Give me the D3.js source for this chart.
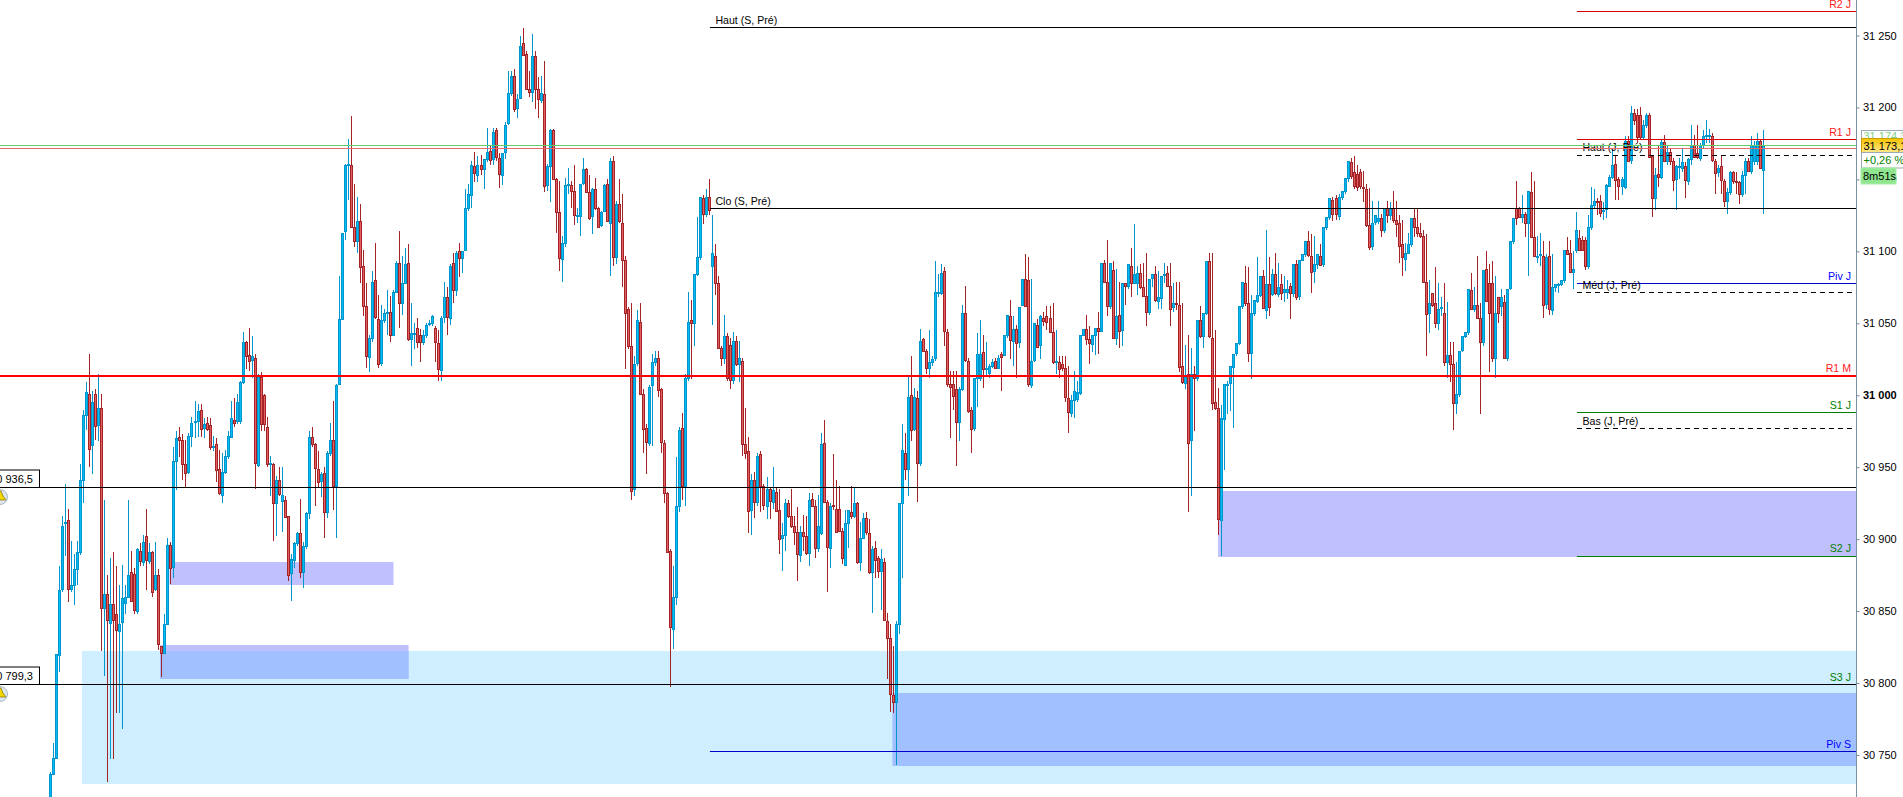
<!DOCTYPE html>
<html>
<head>
<meta charset="utf-8">
<title>Chart</title>
<script src="https://cdn.jsdelivr.net/npm/d3@7"></script>
<style>
html, body { margin: 0; padding: 0; background: #fff; overflow: hidden; }
svg { display: block; }
text { font-family: "Liberation Sans", Arial, sans-serif; font-size: 10.6px; }
</style>
</head>
<body>
<div id="chart"></div>
<script>
// bar values, oldest bar first
const opens = [
30720,30737,30748,30820,30865,30911,30913,30865,30868,30879,30891,30941,30986,31001,30965,31001,30979,30991,30852,30862,
30842,30855,30848,30836,30842,30856,30860,30877,30876,30850,30892,30884,30902,30885,30891,30865,30875,30826,30821,30841,
30896,30880,30954,30971,30969,30952,30947,30972,30981,30982,30990,30977,30981,30979,30964,30966,30949,30931,30947,30958,
30971,30983,30982,30982,31009,31037,31028,31024,31026,30952,31013,31000,30978,30952,30952,30925,30941,30927,30927,30916,
30876,30885,30897,30904,30877,30895,30918,30971,30966,30949,30940,30946,30919,30960,30969,30937,31008,31053,31114,31160,
31160,31117,31107,31121,31090,31062,31027,31040,31080,31053,31022,31052,31057,31058,31042,31072,31092,31064,31078,31092,
31039,31042,31047,31042,31037,31042,31049,31050,31047,31036,31018,31054,31068,31054,31092,31073,31100,31095,31101,31130,
31139,31159,31153,31160,31157,31164,31170,31164,31184,31165,31153,31169,31189,31210,31222,31200,31207,31245,31237,31213,
31211,31236,31213,31205,31209,31146,31159,31184,31150,31127,31095,31106,31146,31146,31142,31125,31125,31147,31157,31141,
31124,31143,31130,31118,31128,31147,31120,31163,31096,31133,31120,31094,31060,31034,30935,31022,31051,31001,30977,30967,
31007,31023,31026,31004,30967,30932,30892,30838,30860,30923,30977,30937,31012,31052,31050,31084,31096,31137,31126,31138,
31090,31097,31078,31033,31026,31041,31035,31011,31038,31022,31024,30966,30961,30920,30941,30926,30959,30937,30923,30935,
30926,30933,30920,30901,30903,30925,30916,30909,30905,30889,30905,30902,30890,30928,30923,30894,30904,30967,30926,30894,
30924,30921,30921,30906,30882,30911,30919,30916,30925,30884,30901,30915,30904,30877,30894,30887,30878,30884,30843,30831,
30792,30787,30841,30925,30960,30949,31000,30977,30998,30953,31039,31031,31019,31023,31026,31071,31071,31086,31044,31008,
31008,31004,30981,31004,31057,31024,30990,30977,31012,31012,31030,31018,31015,31020,31024,31019,31029,31028,31042,31055,
31038,31046,31037,31063,31081,31080,31007,31024,31049,31035,31054,31055,31054,31044,31024,31023,31022,31019,30998,30988,
30997,30997,31002,31042,31046,31039,31036,31042,31047,31045,31092,31079,31062,31087,31040,31056,31045,31078,31076,31090,
31078,31078,31085,31075,31069,31058,31081,31084,31065,31068,31083,31085,31076,31061,31064,31063,31020,31009,31015,30969,
31015,31012,31052,31041,31057,31093,31040,30995,30991,30913,30984,31008,31008,31020,31029,31036,31062,31078,31064,31029,
31057,31066,31070,31083,31059,31077,31070,31084,31070,31077,31072,31072,31076,31071,31091,31069,31094,31098,31107,31097,
31086,31091,31097,31091,31117,31124,31136,31137,31125,31138,31142,31151,31162,31155,31154,31155,31145,31143,31118,31104,
31120,31121,31123,31115,31130,31125,31130,31122,31120,31105,31095,31099,31105,31123,31117,31113,31111,31079,31057,31071,
31064,31050,31060,31057,31023,31028,31022,30995,31001,31031,31041,31044,31073,31060,31063,31054,31037,31088,31078,31078,
31026,31068,31062,31065,31026,31074,31107,31130,31130,31124,31126,31120,31141,31110,31097,31097,31097,31063,31097,31059,
31075,31076,31077,31080,31101,31099,31086,31101,31109,31108,31108,31090,31117,31132,31135,31135,31128,31129,31146,31152,
31161,31150,31145,31145,31177,31163,31196,31195,31195,31180,31188,31195,31166,31137,31154,31152,31176,31163,31169,31163,
31150,31158,31158,31159,31149,31164,31174,31168,31165,31174,31180,31180,31180,31163,31155,31159,31149,31135,31141,31155,
31149,31148,31140,31153,31163,31156,31163,31163,31177,31156
];
const highs = [
30738,30758,30820,30881,30916,30938,30921,30899,30890,30899,30952,30990,31009,31029,31003,31004,31015,31001,30927,30875,
30887,30891,30881,30868,30882,30868,30927,30892,30880,30894,30897,30903,30921,30897,30892,30898,30879,30826,30848,30901,
30898,30964,30975,30978,30973,30969,30974,30985,30996,30994,30994,30984,30985,30984,30972,30970,30962,30960,30962,30975,
30996,30998,31001,31010,31044,31038,31047,31041,31029,31015,31016,31001,30985,30958,30953,30944,30950,30950,30930,30916,
30890,30898,30905,30928,30898,30919,30975,30978,30967,30961,30947,30950,30961,30981,30996,31008,31083,31113,31161,31178,
31194,31147,31138,31133,31101,31078,31042,31086,31106,31070,31063,31060,31073,31069,31073,31093,31114,31097,31102,31105,
31064,31050,31054,31046,31045,31050,31052,31056,31048,31045,31055,31079,31075,31091,31099,31100,31106,31100,31143,31147,
31163,31169,31166,31167,31164,31186,31174,31186,31186,31168,31168,31190,31225,31225,31227,31209,31250,31255,31239,31225,
31251,31239,31221,31222,31232,31161,31185,31185,31151,31149,31111,31151,31158,31149,31160,31130,31147,31165,31158,31153,
31144,31151,31131,31128,31147,31150,31165,31166,31135,31150,31140,31097,31061,31064,31027,31059,31064,31004,30980,31007,
31029,31031,31031,31005,30969,30933,30893,30881,30957,30978,30988,31015,31072,31066,31084,31124,31138,31139,31143,31150,
31125,31105,31083,31034,31056,31043,31040,31044,31041,31038,31026,30991,30971,30945,30947,30960,30961,30938,30943,30936,
30950,30936,30935,30911,30928,30927,30935,30916,30922,30909,30917,30916,30932,30932,30927,30931,30974,30983,30927,30925,
30959,30941,30937,30908,30920,30920,30937,30936,30926,30912,30918,30919,30914,30895,30899,30888,30893,30887,30849,30841,
30826,30843,30925,30980,30974,31014,31027,31005,31003,31046,31040,31032,31045,31027,31093,31084,31091,31089,31046,31017,
31017,31017,31006,31063,31076,31026,30992,30977,31043,31052,31042,31037,31022,31025,31026,31028,31030,31037,31042,31066,
31055,31049,31056,31062,31098,31096,31081,31033,31053,31056,31058,31062,31062,31064,31045,31027,31027,31027,31020,31000,
31017,31010,31005,31043,31056,31048,31040,31045,31058,31050,31094,31108,31080,31093,31088,31079,31058,31078,31091,31102,
31119,31090,31091,31092,31099,31080,31082,31090,31086,31074,31092,31090,31092,31078,31079,31079,31064,31035,31042,31033,
31020,31032,31062,31053,31063,31099,31099,31045,31005,30993,30986,31010,31012,31024,31032,31040,31062,31090,31089,31070,
31060,31096,31072,31087,31115,31096,31088,31099,31092,31084,31083,31080,31078,31079,31094,31093,31097,31099,31114,31112,
31111,31095,31105,31111,31118,31125,31138,31139,31140,31142,31146,31159,31165,31166,31160,31157,31156,31147,31144,31135,
31121,31135,31126,31125,31135,31134,31142,31135,31125,31122,31106,31113,31113,31130,31130,31120,31115,31112,31080,31071,
31089,31078,31068,31078,31065,31037,31037,31023,31002,31035,31044,31048,31085,31075,31097,31064,31055,31100,31091,31093,
31083,31065,31074,31070,31066,31075,31108,31149,31131,31139,31127,31128,31155,31149,31111,31113,31107,31098,31107,31098,
31075,31078,31079,31082,31110,31108,31100,31127,31115,31111,31110,31125,31145,31143,31137,31139,31134,31147,31153,31171,
31167,31152,31152,31180,31180,31201,31199,31199,31200,31191,31196,31196,31167,31158,31173,31178,31181,31174,31171,31165,
31160,31165,31172,31162,31165,31188,31181,31188,31175,31184,31191,31185,31182,31164,31160,31166,31150,31144,31156,31156,
31155,31149,31156,31165,31165,31180,31177,31182,31178,31184
];
const lows = [
30716,30737,30747,30808,30863,30888,30856,30863,30854,30868,30889,30925,30976,30950,30945,30969,30968,30822,30805,30731,
30747,30747,30779,30779,30768,30848,30860,30856,30848,30848,30881,30881,30865,30883,30860,30864,30823,30804,30820,30840,
30869,30873,30934,30957,30941,30936,30945,30964,30970,30971,30971,30970,30975,30962,30961,30940,30931,30925,30945,30956,
30970,30978,30980,30980,31008,31018,31017,31012,30935,30950,30975,30975,30950,30930,30899,30902,30930,30905,30915,30871,
30857,30880,30895,30873,30866,30893,30914,30964,30923,30936,30929,30901,30915,30958,30920,30901,31007,31052,31108,31136,
31117,31103,31099,31078,31055,31019,31016,31037,31053,31019,31020,31050,31042,31037,31042,31072,31047,31056,31077,31038,
31020,31032,31033,31023,31035,31040,31048,31048,31023,31010,31010,31050,31042,31049,31064,31069,31082,31085,31100,31128,
31130,31148,31148,31153,31143,31162,31160,31160,31163,31144,31146,31164,31188,31208,31197,31193,31206,31236,31212,31207,
31204,31199,31193,31203,31141,31142,31134,31150,31113,31086,31079,31103,31140,31130,31118,31120,31111,31146,31141,31122,
31112,31129,31116,31117,31127,31121,31083,31090,31091,31120,31075,31018,31032,30927,30930,31020,31000,30960,30945,30965,
30965,31020,30999,30960,30925,30891,30797,30824,30854,30919,30927,30923,31010,31011,31034,31083,31094,31119,31124,31125,
31049,31070,31033,31020,31022,31010,31004,31008,31020,31009,30958,30956,30904,30903,30915,30923,30919,30920,30914,30914,
30921,30919,30890,30878,30892,30915,30908,30896,30871,30884,30892,30889,30881,30922,30887,30891,30903,30925,30863,30880,
30920,30904,30905,30883,30881,30894,30914,30915,30883,30878,30900,30903,30876,30849,30873,30873,30851,30843,30803,30780,
30779,30743,30834,30873,30941,30930,30968,30975,30926,30951,31030,31015,31012,31020,31024,31068,31070,31034,31006,30970,
30990,30951,30968,31003,31023,30988,30960,30975,30992,31010,31005,31013,31012,31019,31018,31018,31003,31027,31040,31025,
31020,31012,31033,31062,31062,31006,31005,31023,31033,31025,31048,31045,31043,31022,31015,31012,31017,30995,30974,30985,
30984,30995,31000,31041,31035,31022,31030,31028,31029,31044,31079,31055,31060,31040,31035,31033,31034,31063,31074,31068,
31077,31070,31074,31068,31048,31056,31075,31065,31060,31060,31078,31075,31048,31058,31059,31016,31008,31004,30919,30930,
30975,31010,31040,31033,31056,31040,30990,30990,30903,30888,30948,30987,30989,30977,31027,31035,31060,31062,31023,31011,
31055,31064,31068,31060,31053,31055,31069,31070,31068,31066,31065,31067,31053,31068,31066,31066,31093,31096,31096,31071,
31078,31088,31090,31089,31115,31122,31121,31122,31122,31136,31140,31148,31150,31143,31142,31143,31134,31117,31101,31101,
31118,31119,31110,31113,31120,31122,31120,31110,31092,31083,31086,31098,31103,31110,31110,31109,31079,31027,31043,31061,
31047,31045,31055,31020,31012,31009,30976,30987,30999,31030,31040,31042,31060,31058,31054,30987,31034,31066,31016,31023,
31012,31050,31055,31026,31024,31073,31105,31118,31123,31120,31110,31083,31110,31096,31092,31090,31054,31060,31056,31056,
31072,31071,31076,31078,31098,31085,31074,31099,31100,31100,31087,31088,31115,31130,31125,31124,31122,31123,31145,31150,
31136,31136,31139,31143,31163,31161,31188,31175,31178,31178,31186,31166,31124,31129,31145,31150,31163,31160,31160,31142,
31129,31150,31155,31137,31146,31160,31165,31164,31163,31172,31175,31175,31162,31140,31152,31140,31131,31126,31139,31147,
31140,31133,31138,31140,31155,31154,31160,31160,31158,31126
];
const closes = [
30737,30748,30820,30865,30909,30912,30865,30868,30879,30891,30941,30986,31002,30963,30995,30979,30991,30852,30862,30844,
30855,30844,30837,30841,30859,30860,30875,30857,30851,30893,30885,30898,30885,30891,30863,30875,30827,30821,30841,30896,
30880,30954,30970,30969,30952,30946,30972,30981,30982,30989,30977,30980,30977,30964,30965,30948,30932,30947,30958,30972,
30984,30981,30995,31009,31037,31027,31024,31027,30953,31013,30980,30980,30952,30953,30925,30941,30931,30931,30915,30875,
30886,30897,30904,30877,30895,30918,30971,30966,30949,30940,30945,30919,30960,30969,30937,31007,31053,31113,31160,31161,
31117,31107,31121,31089,31062,31027,31040,31079,31054,31022,31052,31057,31058,31042,31072,31092,31064,31078,31091,31039,
31043,31043,31037,31037,31042,31049,31050,31055,31037,31018,31054,31068,31054,31090,31073,31099,31095,31100,31130,31140,
31160,31154,31160,31157,31164,31169,31164,31183,31165,31154,31168,31188,31210,31222,31199,31206,31243,31237,31213,31211,
31236,31213,31206,31210,31145,31159,31184,31150,31127,31095,31106,31146,31147,31142,31125,31125,31147,31157,31141,31123,
31143,31130,31117,31127,31146,31121,31163,31096,31133,31121,31094,31057,31034,30933,31022,31052,31001,30977,30967,31006,
31023,31026,31004,30967,30932,30891,30839,30860,30923,30976,30937,31012,31051,31050,31084,31096,31138,31126,31138,31129,
31099,31078,31033,31026,31041,31012,31011,31038,31022,31026,30966,30960,30919,30941,30926,30958,30937,30924,30935,30927,
30934,30920,30900,30903,30925,30916,30909,30905,30890,30905,30902,30890,30927,30923,30894,30909,30966,30926,30895,30923,
30923,30905,30906,30887,30911,30920,30916,30925,30884,30901,30915,30905,30877,30893,30886,30878,30886,30844,30831,30792,
30787,30841,30925,30962,30949,30999,30976,30999,30953,31038,31031,31019,31023,31025,31072,31072,31085,31044,31008,31006,
31000,30981,31004,31057,31024,30989,30977,31012,31029,31029,31018,31019,31020,31023,31019,31026,31027,31042,31056,31038,
31046,31036,31061,31081,31062,31008,31024,31050,31034,31055,31052,31051,31044,31023,31024,31018,31019,30999,30988,30997,
31003,31002,31042,31046,31039,31036,31042,31047,31045,31092,31079,31062,31092,31040,31055,31045,31078,31076,31091,31078,
31084,31085,31075,31069,31058,31081,31084,31066,31068,31083,31084,31076,31060,31064,31063,31020,31009,31013,30967,31015,
31012,31052,31041,31057,31093,31041,30995,30991,30914,30984,31008,31008,31020,31029,31036,31062,31079,31064,31029,31057,
31066,31070,31083,31061,31077,31061,31084,31071,31075,31071,31074,31074,31071,31091,31068,31094,31098,31107,31097,31086,
31091,31098,31091,31117,31124,31137,31126,31126,31138,31142,31151,31163,31152,31145,31145,31145,31144,31118,31103,31120,
31125,31123,31115,31130,31125,31130,31122,31119,31104,31096,31099,31105,31123,31117,31113,31111,31079,31057,31064,31063,
31050,31060,31061,31023,31028,31022,30995,31001,31031,31041,31044,31074,31060,31063,31054,31037,31087,31066,31057,31026,
31057,31057,31068,31026,31074,31107,31123,31123,31124,31126,31120,31142,31110,31097,31097,31098,31063,31096,31060,31075,
31077,31077,31080,31101,31098,31086,31088,31115,31101,31101,31090,31117,31132,31135,31134,31127,31129,31146,31152,31160,
31150,31145,31150,31177,31163,31196,31191,31180,31180,31188,31195,31166,31137,31153,31152,31176,31163,31169,31163,31150,
31159,31159,31162,31149,31164,31174,31166,31165,31174,31180,31181,31181,31163,31155,31158,31149,31135,31141,31155,31149,
31148,31140,31153,31163,31156,31174,31174,31177,31158,31173
];

// horizontal levels (name, price)
const dayLevelNames = ["R2 J", "R1 J", "Piv J", "S1 J", "S2 J", "S3 J"];
const dayLevelValues = [31267, 31178, 31078, 30988.3, 30888.5, 30799.3];
const prevDayNames = ["Haut (J, Pré)", "Méd (J, Pré)", "Bas (J, Pré)"];
const prevDayValues = [31167, 31071.5, 30977.2];
const prevWeekNames = ["Haut (S, Pré)", "Clo (S, Pré)"];
const prevWeekValues = [31255.7, 31130];
const pivotWeekValue = 30752.7;
const monthLevelValue = 31013.7;
const alertValues = [30936.5, 30799.3];
const alertLabels = ["30 936,5", "30 799,3"];
const askValue = 31173.6;
const bidValue = 31171.5;

// shaded zones, in prices and bar numbers
const lightZone = [30822.3, 30729.8];
const zoneHighs = [30884.1, 30826.4, 30793.1, 30933.5];
const zoneLows = [30868.1, 30802.8, 30742.4, 30887.6];
const zoneFromBars = [39.7, 36.6, 279.9, 388];
const zoneToBars = [114.1, 119.1, null, null];
const lightZoneFromBar = 10.6;
const weekFromBar = 219.2;
const dayFromBar = 507.2;

const tickValues = [30750, 30800, 30850, 30900, 30950, 31000, 31050, 31100, 31150, 31200, 31250];
const badgeTexts = ["31 174,3", "31 173,1", "+0,26 %", "8m51s"];

const width = 1903;
const height = 797;
const axisX = 1856.5;
const upFill = "#00bcf2", upLine = "#0095cc";
const downFill = "#e2605f", downLine = "#a32326";

const svg = d3.select("#chart").append("svg").attr("width", width).attr("height", height);

const defs = svg.append("defs");
const gold = defs.append("linearGradient").attr("id", "gold").attr("x1", 0).attr("x2", 0).attr("y1", 0).attr("y2", 1);
gold.append("stop").attr("offset", "0%").attr("stop-color", "#f7c400");
gold.append("stop").attr("offset", "100%").attr("stop-color", "#ffe68c");

const x = d3.scaleLinear().domain([0, closes.length - 1]).range([50, 1763]);
const y = d3.scaleLinear().domain([30750, 31250]).range([755, 35.5]);

// zones first, the bars are painted over them
const zoneLayer = svg.append("g");
const zoneRect = (x0, x1, hi, lo, color) => {
    zoneLayer.append("rect")
        .attr("x", x0).attr("width", x1 - x0)
        .attr("y", Math.round(y(hi))).attr("height", Math.round(y(lo)) - Math.round(y(hi)))
        .attr("fill", color);
};
zoneRect(x(lightZoneFromBar), axisX, lightZone[0], lightZone[1], "#cfeeff");
zoneHighs.forEach((hi, i) => {
    const x0 = x(zoneFromBars[i]);
    const x1 = zoneToBars[i] === null ? axisX : x(zoneToBars[i]);
    zoneRect(x0, x1, hi, zoneLows[i], "#c0c0ff");
    // where it overlaps the light zone the colour is deeper
    const top = Math.min(hi, lightZone[0]);
    const bottom = Math.max(zoneLows[i], lightZone[1]);
    if (top > bottom) zoneRect(x0, x1, top, bottom, "#a0c0ff");
});

// candles
const bars = svg.append("g").selectAll("g").data(closes).join("g")
    .attr("transform", (d, i) => "translate(" + Math.round(x(i)) + ",0)");
bars.append("line")
    .attr("x1", 0.5).attr("x2", 0.5)
    .attr("y1", (d, i) => y(highs[i]))
    .attr("y2", (d, i) => y(lows[i]))
    .attr("stroke", (d, i) => d >= opens[i] ? upLine : downLine)
    .attr("shape-rendering", "crispEdges");
bars.append("rect")
    .attr("x", -0.5).attr("width", 2)
    .attr("y", (d, i) => Math.round(y(Math.max(d, opens[i]))) + 0.5)
    .attr("height", (d, i) => Math.max(1, Math.round(Math.abs(y(d) - y(opens[i])))))
    .attr("fill", (d, i) => d >= opens[i] ? upFill : downFill)
    .attr("stroke", (d, i) => d >= opens[i] ? upLine : downLine)
    .attr("shape-rendering", "crispEdges");

// level lines and their names
const lineLayer = svg.append("g");
const hLine = (x0, value, color, w, dash) => {
    const py = Math.round(y(value)) + (w % 2 ? 0.5 : 0);
    lineLayer.append("line")
        .attr("x1", x0).attr("x2", axisX).attr("y1", py).attr("y2", py)
        .attr("stroke", color).attr("stroke-width", w)
        .attr("stroke-dasharray", dash || null);
};
const rightLabel = (name, value, color) => {
    lineLayer.append("text").attr("x", 1851).attr("y", y(value) - 3.5)
        .attr("text-anchor", "end").attr("fill", color).text(name);
};
const leftLabel = (name, x0, value) => {
    lineLayer.append("text").attr("x", x0 + 5.5).attr("y", y(value) - 3.5)
        .attr("fill", "#000").text(name);
};

const dayColors = ["#e00000", "#e00000", "#0000cc", "#008000", "#008000", "#008000"];
const dayTextColors = ["#ff2020", "#ff2020", "#0000ff", "#008000", "#008000", "#008000"];
dayLevelNames.forEach((name, i) => {
    hLine(x(dayFromBar), dayLevelValues[i], dayColors[i], 1);
    rightLabel(name, dayLevelValues[i], dayTextColors[i]);
});
prevDayNames.forEach((name, i) => {
    hLine(x(dayFromBar), prevDayValues[i], "#000", 1, "5,4");
    leftLabel(name, x(dayFromBar), prevDayValues[i]);
});
prevWeekNames.forEach((name, i) => {
    hLine(x(weekFromBar), prevWeekValues[i], "#000", 1);
    leftLabel(name, x(weekFromBar), prevWeekValues[i]);
});
hLine(x(weekFromBar), pivotWeekValue, "#0000cc", 1);
rightLabel("Piv S", pivotWeekValue, "#0000ff");
hLine(0, monthLevelValue, "#ff0000", 2);
rightLabel("R1 M", monthLevelValue, "#ff2020");

// alert lines on the left with the clipped price box and the bell
alertValues.forEach((value, i) => {
    const py = Math.round(y(value)) + 0.5;
    lineLayer.append("rect").attr("x", -2).attr("y", py - 17.5).attr("width", 41.5).attr("height", 17.5)
        .attr("fill", "#fff").attr("stroke", "#000");
    lineLayer.append("text").attr("x", 33).attr("y", py - 4.5).attr("text-anchor", "end")
        .style("font-size", "11px").attr("fill", "#000").text(alertLabels[i]);
    hLine(0, value, "#000", 1);
    const bell = lineLayer.append("g").attr("transform", "translate(0," + (py + 9.5) + ")");
    bell.append("circle").attr("r", 7.5).attr("fill", "#dfe7ee").attr("stroke", "#a9b8c6");
    bell.append("path").attr("d", "M-1,-6 L1,-6 L3,-1 L6,3 L-6,3 L-3,-1 Z").attr("fill", "#f3d800").attr("stroke", "#7d6f00").attr("stroke-width", 0.7);
});

hLine(0, askValue, "#66cc66", 1);
hLine(0, bidValue, "#e66a6a", 1);

// price axis
const frFormat = d3.formatLocale({ decimal: ",", thousands: " ", grouping: [3], currency: ["", ""] }).format(",");
const axis = svg.append("g").attr("transform", "translate(" + axisX + ",0)")
    .call(d3.axisRight(y).tickValues(tickValues).tickSize(3).tickPadding(3.5).tickFormat(frFormat));
axis.select(".domain").remove();
axis.selectAll(".tick line").attr("stroke", "#6f8494");
axis.selectAll(".tick text").attr("fill", "#000")
    .style("font-family", '"Liberation Sans", Arial, sans-serif').style("font-size", "11px")
    .style("font-weight", d => d === 31000 ? "bold" : "normal");
svg.append("line").attr("x1", axisX).attr("x2", axisX).attr("y1", 0).attr("y2", height).attr("stroke", "#7a8fa0");

// price badges over the axis
const badge = (bx, by, bw, bh, fill, stroke, color, text) => {
    svg.append("rect").attr("x", bx).attr("y", by).attr("width", bw).attr("height", bh)
        .attr("fill", fill).attr("stroke", stroke);
    svg.append("text").attr("x", bx + 2).attr("y", by + bh / 2 + 4)
        .attr("fill", color).style("font-size", "11px").text(text);
};
badge(1861.5, 130.5, 50, 10, "#fff", "#9aa9b3", "#7fd27f", badgeTexts[0]);
badge(1861.5, 138.5, 50, 14, "url(#gold)", "#c8a000", "#000", badgeTexts[1]);
badge(1861.5, 152.5, 50, 15.5, "#fff", "#9aa9b3", "#008000", badgeTexts[2]);
badge(1861, 168, 35, 16, "#8fe68f", "#a8eca8", "#000", badgeTexts[3]);
</script>
</body>
</html>
